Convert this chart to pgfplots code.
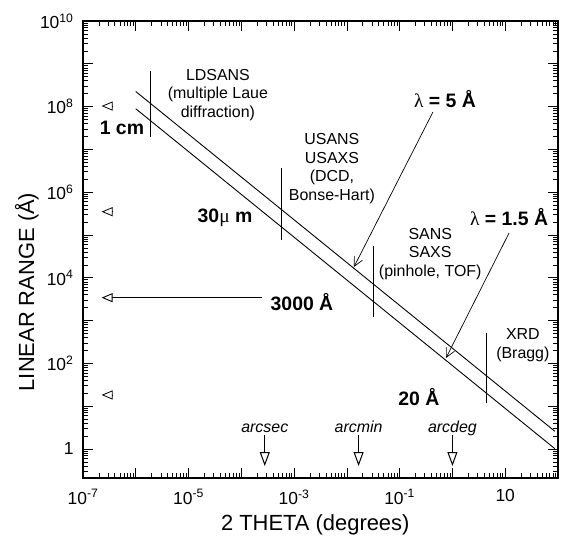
\documentclass[border=0pt]{standalone}
\usepackage{fontspec}
\setmainfont{Liberation Sans}
\newfontfamily\greek{Liberation Serif}
\usepackage{pgfplots}
\pgfplotsset{compat=1.18}
\usetikzlibrary{arrows.meta}
\newcommand\fs{\fontsize{16}{18.8}\selectfont}
\newcommand\fb{\fontsize{19.5}{22}\selectfont\bfseries}
\begin{document}
\begin{tikzpicture}
\begin{axis}[
  xmode=log, ymode=log,
  scale only axis,
  width=475bp, height=457bp,
  xmin=1e-7, xmax=1e2,
  ymin=0.21, ymax=1e10,
  axis line style={line width=1.2bp},
  every tick/.style={black, line width=0.7bp},
  major tick length=10bp, minor tick length=5bp,
  tick align=inside,
  xtick={1e-7,1e-6,1e-5,1e-4,1e-3,1e-2,1e-1,1,10,100},
  xticklabels={10\textsuperscript{-7},,10\textsuperscript{-5},,10\textsuperscript{-3},,10\textsuperscript{-1},,10,},
  minor xtick={2e-7,3e-7,4e-7,5e-7,6e-7,7e-7,8e-7,9e-7,
               2e-6,3e-6,4e-6,5e-6,6e-6,7e-6,8e-6,9e-6,
               2e-5,3e-5,4e-5,5e-5,6e-5,7e-5,8e-5,9e-5,
               2e-4,3e-4,4e-4,5e-4,6e-4,7e-4,8e-4,9e-4,
               2e-3,3e-3,4e-3,5e-3,6e-3,7e-3,8e-3,9e-3,
               2e-2,3e-2,4e-2,5e-2,6e-2,7e-2,8e-2,9e-2,
               2e-1,3e-1,4e-1,5e-1,6e-1,7e-1,8e-1,9e-1,
               2,3,4,5,6,7,8,9,
               20,30,40,50,60,70,80,90},
  ytick={1,1e1,1e2,1e3,1e4,1e5,1e6,1e7,1e8,1e9,1e10},
  yticklabels={1,,10\textsuperscript{2},,10\textsuperscript{4},,10\textsuperscript{6},,10\textsuperscript{8},,10\textsuperscript{10}},
  minor ytick={0.3,0.4,0.5,0.6,0.7,0.8,0.9,
               2,3,4,5,6,7,8,9,
               2e1,3e1,4e1,5e1,6e1,7e1,8e1,9e1,
               2e2,3e2,4e2,5e2,6e2,7e2,8e2,9e2,
               2e3,3e3,4e3,5e3,6e3,7e3,8e3,9e3,
               2e4,3e4,4e4,5e4,6e4,7e4,8e4,9e4,
               2e5,3e5,4e5,5e5,6e5,7e5,8e5,9e5,
               2e6,3e6,4e6,5e6,6e6,7e6,8e6,9e6,
               2e7,3e7,4e7,5e7,6e7,7e7,8e7,9e7,
               2e8,3e8,4e8,5e8,6e8,7e8,8e8,9e8,
               2e9,3e9,4e9,5e9,6e9,7e9,8e9,9e9},
  tick label style={font=\fontsize{17.5}{20}\selectfont},
  xticklabel style={yshift=-8bp},
  yticklabel style={xshift=-6bp},
  xlabel={2 THETA (degrees)},
  ylabel={LINEAR RANGE (Å)},
  every axis x label/.style={at={(rel axis cs:0.489,-0.1138)}, anchor=base, font=\fontsize{22}{25}\selectfont},
  every axis y label/.style={at={(rel axis cs:-0.118,0.407)}, anchor=center, rotate=90, font=\fontsize{22}{25}\selectfont},
  clip=false,
]
% lambda = 5 A and lambda = 1.5 A lines
\addplot[black, line width=0.9bp] coordinates {(1e-6,2.25e8) (5.8e-4,3.9e5) (87,2.6)};
\addplot[black, line width=0.9bp] coordinates {(1e-6,8.9e7) (5.8e-4,1.53e5) (87,1.02)};
% technique boundaries
\addplot[black, line width=1bp] coordinates {(1.94e-6,1.95e7) (1.94e-6,6.8e8)};
\addplot[black, line width=1bp] coordinates {(5.8e-4,7.6e4) (5.8e-4,3.6e6)};
\addplot[black, line width=1bp] coordinates {(0.032,1.2e3) (0.032,5.5e4)};
\addplot[black, line width=1bp] coordinates {(4.4,11.7) (4.4,500)};
% size markers on the left
\addplot[black, line width=0.8bp, -{Triangle[open,length=11bp,width=9bp]}] coordinates {(3.6e-7,1.03e8) (2.25e-7,1.03e8)};
\addplot[black, line width=0.8bp, -{Triangle[open,length=11bp,width=9bp]}] coordinates {(3.6e-7,3.5e5) (2.25e-7,3.5e5)};
\addplot[black, line width=0.9bp, -{Triangle[open,length=11bp,width=9bp]}] coordinates {(2.46e-4,3430) (2.25e-7,3430)};
\addplot[black, line width=0.8bp, -{Triangle[open,length=11bp,width=9bp]}] coordinates {(3.6e-7,18.3) (2.25e-7,18.3)};
% lambda arrows
\addplot[black, line width=0.7bp, -{Straight Barb[length=9bp,width=9bp]}] coordinates {(0.428,7.5e7) (0.0136,1.79e4)};
\addplot[black, line width=0.7bp, -{Straight Barb[length=9bp,width=9bp]}] coordinates {(11.8,1.11e5) (0.755,133.6)};
% angle unit arrows
\addplot[black, line width=1bp, -{Triangle[open,length=14bp,width=10bp]}] coordinates {(2.78e-4,2.12) (2.78e-4,0.40)};
\addplot[black, line width=1bp, -{Triangle[open,length=14bp,width=10bp]}] coordinates {(1.667e-2,2.12) (1.667e-2,0.40)};
\addplot[black, line width=1bp, -{Triangle[open,length=14bp,width=10bp]}] coordinates {(1,2.12) (1,0.40)};
% labels
\node[font=\fs\itshape, anchor=base] at (axis cs:2.78e-4,2.45) {arcsec};
\node[font=\fs\itshape, anchor=base] at (axis cs:1.667e-2,2.45) {arcmin};
\node[font=\fs\itshape, anchor=base] at (axis cs:1,2.45) {arcdeg};
\node[font=\fs, align=center] at (rel axis cs:0.284,0.838) {LDSANS\\(multiple Laue\\diffraction)};
\node[font=\fs, align=center] at (rel axis cs:0.524,0.677) {USANS\\USAXS\\(DCD,\\Bonse-Hart)};
\node[font=\fs, align=center] at (rel axis cs:0.731,0.490) {SANS\\SAXS\\(pinhole, TOF)};
\node[font=\fs, align=center] at (rel axis cs:0.926,0.291) {XRD\\(Bragg)};
\node[font=\fb] at (rel axis cs:0.082,0.766) {1 cm};
\node[font=\fb] at (rel axis cs:0.299,0.569) {30{\greek\mdseries μ} m};
\node[font=\fb] at (rel axis cs:0.762,0.829) {{\greek\mdseries λ} = 5 Å};
\node[font=\fb] at (rel axis cs:0.897,0.571) {{\greek\mdseries λ} = 1.5 Å};
\node[font=\fb] at (rel axis cs:0.461,0.385) {3000 Å};
\node[font=\fb] at (rel axis cs:0.707,0.177) {20 Å};
\end{axis}
\pgfresetboundingbox
\useasboundingbox ([shift={(-83bp,-59bp)}]current axis.south west) rectangle ([shift={(15bp,21bp)}]current axis.north east);
\end{tikzpicture}
\end{document}
